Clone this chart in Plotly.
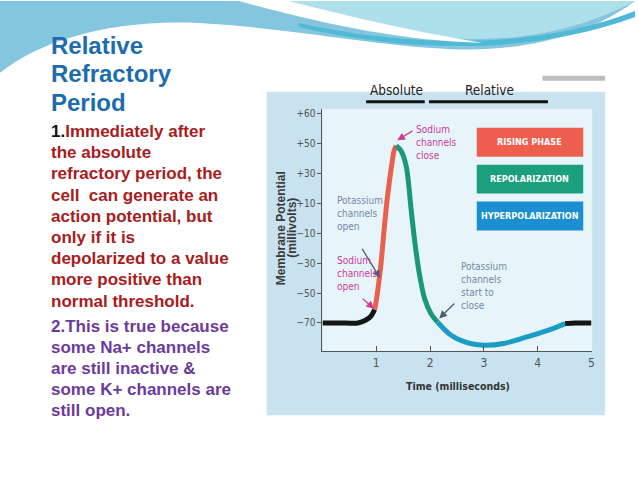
import plotly.graph_objects as go

# ---------------- data ----------------
rest_t = [0.0, 0.3, 0.66, 0.8, 0.9, 0.97]
rest_v = [-70, -70, -70, -68.2, -65.5, -61]

rise_t = [0.97, 1.0, 1.08, 1.14, 1.20, 1.28, 1.33, 1.37]
rise_v = [-61, -55, -33, -10, 12, 34, 45, 48.5]

repol_t = [1.37, 1.46, 1.56, 1.65, 1.72, 1.80, 1.90, 2.02, 2.14]
repol_v = [48.5, 45, 34, 5, -17, -37, -54, -64, -69.5]

hyper_t = [2.14, 2.39, 2.70, 3.0, 3.37, 3.80, 4.23, 4.51]
hyper_v = [-69.5, -78.2, -83.3, -84.9, -83.7, -79.3, -74.4, -70.4]

end_t = [4.51, 4.7, 5.0]
end_v = [-70.4, -70, -70]

y_tick_vals = [-70, -50, -30, -10, 10, 30, 50, 70]
y_tick_text = ["\u221270", "\u221250", "\u221230", "\u221210", "+10", "+30", "+50", "+60"]
x_tick_vals = [1, 2, 3, 4, 5]

phase_labels = ["RISING PHASE", "REPOLARIZATION", "HYPERPOLARIZATION"]
phase_colors = ["#ee5e4e", "#1c9f7e", "#1b8fd2"]

absolute_span = [0.81, 1.90]
relative_span = [1.98, 4.19]

title_lines = ["Relative", "Refractory", "Period"]
item1_lines = ["<span style='color:#111111'>1.</span>Immediately after", "the absolute",
               "refractory period, the", "cell  can generate an", "action potential, but",
               "only if it is", "depolarized to a value", "more positive than",
               "normal threshold."]
item2_lines = ["2.This is true because", "some Na+ channels", "are still inactive &",
               "some K+ channels are", "still open."]

# ---------------- helpers (pixel -> paper) ----------------
W, H = 638, 479
def px(x):
    return x / W
def py(y):
    return 1 - y / H
def path(points, close=True):
    s = ""
    for kind, coords in points:
        s += kind + " " + " ".join(f"{px(a):.4f},{py(b):.4f}" for a, b in coords) + " "
    return s + ("Z" if close else "")

NARROW = "DejaVu Sans Condensed, Liberation Sans Narrow, Arial Narrow, sans-serif"
SANS = "Liberation Sans, Arial, sans-serif"

fig = go.Figure()

for t, v, c in [(rest_t, rest_v, "#151515"), (rise_t, rise_v, "#ea604f"),
                (repol_t, repol_v, "#1b977a"), (hyper_t, hyper_v, "#1d9cc3"),
                (end_t, end_v, "#151515")]:
    fig.add_trace(go.Scatter(x=t, y=v, mode="lines",
                             line=dict(color=c, width=5, shape="spline", smoothing=0.8),
                             hoverinfo="skip", showlegend=False))

shapes = []
# header decoration
shapes.append(dict(type="path", xref="paper", yref="paper", layer="below", line=dict(width=0),
                   fillcolor="#84c6de",
                   path=path([("M", [(0, 0)]), ("L", [(638, 0), (638, 14)]),
                              ("C", [(590, 36), (520, 52), (450, 48)]),
                              ("C", [(370, 44), (300, 28), (200, 22)]),
                              ("C", [(110, 18), (40, 40), (0, 72)])])))
shapes.append(dict(type="path", xref="paper", yref="paper", layer="below", line=dict(width=0),
                   fillcolor="#4fb9d6",
                   path=path([("M", [(300, 22)]),
                              ("C", [(400, 44), (530, 52), (638, 10)]),
                              ("L", [(638, 16)]),
                              ("C", [(540, 52), (420, 54), (300, 26)])])))
shapes.append(dict(type="path", xref="paper", yref="paper", layer="below", line=dict(width=0),
                   fillcolor="#aee0eb",
                   path=path([("M", [(270, 0)]), ("L", [(638, 0), (638, 8)]),
                              ("C", [(570, 36), (500, 42), (440, 36)]),
                              ("C", [(380, 28), (320, 12), (270, 0)])])))
shapes.append(dict(type="path", xref="paper", yref="paper", layer="below", line=dict(width=0),
                   fillcolor="#ffffff",
                   path=path([("M", [(240, 0)]),
                              ("C", [(320, 22), (400, 40), (485, 42)]),
                              ("C", [(400, 28), (330, 10), (290, 0)])])))
shapes.append(dict(type="path", xref="paper", yref="paper", layer="below", line=dict(color="#ffffff", width=1.5),
                   fillcolor="rgba(0,0,0,0)",
                   path=path([("M", [(15, 62)]), ("C", [(120, 25), (250, 30), (420, 50)])], close=False)))
# chart panels
shapes.append(dict(type="rect", xref="paper", yref="paper", layer="below", line=dict(width=0),
                   fillcolor="#c9e2ef", x0=px(268), x1=px(608), y0=py(415), y1=py(91)))
shapes.append(dict(type="rect", xref="paper", yref="paper", layer="below", line=dict(width=0),
                   fillcolor="#e7f5fb", x0=px(324), x1=px(595), y0=py(351), y1=py(108)))
shapes.append(dict(type="rect", xref="paper", yref="paper", layer="below", line=dict(width=0),
                   fillcolor="#bdbdbd", x0=px(545), x1=px(608), y0=py(80), y1=py(75)))
# absolute / relative bars
for span in (absolute_span, relative_span):
    shapes.append(dict(type="line", xref="x", yref="paper", x0=span[0], x1=span[1],
                       y0=py(101), y1=py(101), line=dict(color="#111111", width=3)))
# phase boxes
box_tops = [127, 164, 201]
for top, col in zip(box_tops, phase_colors):
    shapes.append(dict(type="rect", xref="paper", yref="paper", line=dict(width=0),
                       fillcolor=col, x0=px(479), x1=px(586), y0=py(top + 29), y1=py(top)))

ann = []
for top, lab in zip(box_tops, phase_labels):
    ann.append(dict(xref="paper", yref="paper", x=px(532.5), y=py(top + 14.5), text=f"<b>{lab}</b>",
                    showarrow=False, font=dict(family=NARROW, size=9, color="white"),
                    xanchor="center", yanchor="middle"))
ann.append(dict(xref="x", yref="paper", x=1.37, y=py(89), text="Absolute", showarrow=False,
                font=dict(family=NARROW, size=13.5, color="#222222"), xanchor="center", yanchor="middle"))
ann.append(dict(xref="x", yref="paper", x=3.1, y=py(89), text="Relative", showarrow=False,
                font=dict(family=NARROW, size=13.5, color="#222222"), xanchor="center", yanchor="middle"))

MAG = "#cc3a98"
SLATE = "#7686a6"
def label(x, y, text, color):
    ann.append(dict(xref="x", yref="y", x=x, y=y, text=text, showarrow=False, align="left",
                    xanchor="left", yanchor="top", font=dict(family=NARROW, size=10, color=color)))
def arrow(x0, y0, x1, y1, color):
    ann.append(dict(xref="x", yref="y", axref="x", ayref="y", x=x1, y=y1, ax=x0, ay=y0, text="",
                    showarrow=True, arrowhead=2, arrowsize=1.2, arrowwidth=1.3, arrowcolor=color))

label(1.71, 64, "Sodium<br>channels<br>close", MAG)
arrow(1.70, 59, 1.39, 52, MAG)
label(0.23, 17, "Potassium<br>channels<br>open", SLATE)
arrow(0.72, -19.5, 1.07, -40, "#4d5a78")
label(0.23, -23, "Sodium<br>channels<br>open", MAG)
arrow(0.72, -53, 0.96, -60.5, MAG)
label(2.54, -27, "Potassium<br>channels<br>start to<br>close", SLATE)
arrow(2.48, -56, 2.17, -67, "#4d5a78")

# axis titles
ann.append(dict(xref="paper", yref="paper", x=px(460), y=py(386), text="<b>Time (milliseconds)</b>",
                showarrow=False, xanchor="center", yanchor="middle",
                font=dict(family=NARROW, size=10.5, color="#333333")))
ann.append(dict(xref="paper", yref="paper", x=px(282), y=py(228), text="<b>Membrane Potential</b>",
                showarrow=False, textangle=-90, xanchor="center", yanchor="middle",
                font=dict(family=SANS, size=12, color="#3a3a3a")))
ann.append(dict(xref="paper", yref="paper", x=px(292.5), y=py(227), text="<b>(millivolts)</b>",
                showarrow=False, textangle=-90, xanchor="center", yanchor="middle",
                font=dict(family=SANS, size=12, color="#3a3a3a")))

# slide text
def slide_lines(lines, base0, step, size, color):
    for i, s in enumerate(lines):
        base = base0 + i * step
        ann.append(dict(xref="paper", yref="paper", x=px(49), y=py(base - 0.35 * size),
                        text=f"<b>{s}</b>", showarrow=False, xanchor="left", yanchor="middle",
                        font=dict(family=SANS, size=size, color=color)))

slide_lines(title_lines, 53, 28.5, 24, "#1c6cae")
slide_lines(item1_lines, 136.7, 21.25, 17, "#a81c1c")
slide_lines(item2_lines, 331.7, 21.1, 17, "#6b3a9c")

fig.update_layout(
    width=W, height=H, margin=dict(l=0, r=0, t=0, b=0),
    paper_bgcolor="white", plot_bgcolor="rgba(0,0,0,0)",
    shapes=shapes, annotations=ann, showlegend=False,
    xaxis=dict(domain=[px(324), px(594.3)], range=[0, 5], tickvals=x_tick_vals,
               ticks="inside", ticklen=5, tickcolor="#555555", showline=True, linecolor="#555555",
               linewidth=1, showgrid=False, zeroline=False,
               tickfont=dict(family=NARROW, size=12, color="#555555")),
    yaxis=dict(domain=[py(351), py(108)], range=[-88.9, 73.1], tickvals=y_tick_vals,
               ticktext=y_tick_text, ticks="outside", ticklen=4, tickcolor="#555555",
               showline=True, linecolor="#555555", linewidth=1, showgrid=False, zeroline=False,
               tickfont=dict(family=NARROW, size=10, color="#555555")),
)

fig.write_html("out.html", config={"displayModeBar": False},
               post_script="document.body.style.margin='0';")
